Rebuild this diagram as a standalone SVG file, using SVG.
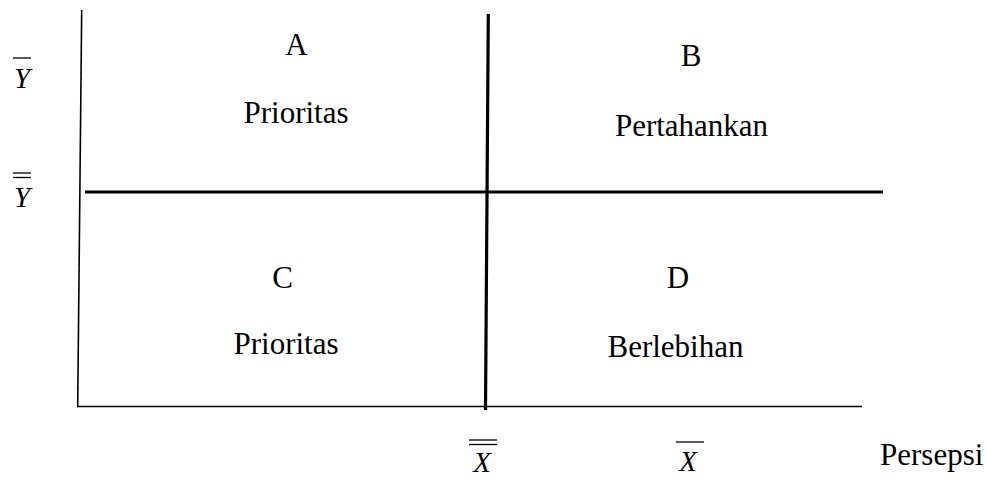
<svg xmlns="http://www.w3.org/2000/svg" width="987" height="479" viewBox="0 0 987 479">
<style>
.t{font-family:"Liberation Serif","Times New Roman",serif;font-size:31px;fill:#000;text-anchor:middle}
.m{font-family:"Liberation Serif","Times New Roman",serif;font-size:29px;font-style:italic;fill:#000;text-anchor:middle}
.thin{stroke:#000;stroke-width:1.6;fill:none}
.thick{stroke:#000;stroke-width:3.2;fill:none}
.bar{stroke:#000;stroke-width:1.3}
</style>
<rect width="987" height="479" fill="#fff"/>
<g id="connectors">
<line class="thin" x1="81.7" y1="10" x2="77.7" y2="406.5"/>
<line class="thin" x1="77" y1="406.5" x2="862" y2="406.5"/>
<line class="thick" x1="488.3" y1="14" x2="485.5" y2="410"/>
<line class="thick" x1="85" y1="192" x2="883" y2="192"/>
</g>
<g id="quadA">
<text class="t" x="296.5" y="55">A</text>
<text class="t" x="296" y="123">Prioritas</text>
</g>
<g id="quadB">
<text class="t" x="691" y="66">B</text>
<text class="t" x="691.5" y="136">Pertahankan</text>
</g>
<g id="quadC">
<text class="t" x="282.5" y="288">C</text>
<text class="t" x="286" y="354">Prioritas</text>
</g>
<g id="quadD">
<text class="t" x="678" y="288">D</text>
<text class="t" x="675.5" y="357">Berlebihan</text>
</g>
<g id="axisY">
<line class="bar" x1="13" y1="58" x2="31" y2="58"/>
<text class="m" x="22" y="88">Y</text>
<line class="bar" x1="13" y1="173" x2="31" y2="173"/>
<line class="bar" x1="13" y1="177.5" x2="31" y2="177.5"/>
<text class="m" x="22" y="207">Y</text>
</g>
<g id="axisX">
<line class="bar" x1="469" y1="440" x2="497" y2="440"/>
<line class="bar" x1="469" y1="444.5" x2="497" y2="444.5"/>
<text class="m" x="482" y="472">X</text>
<line class="bar" x1="676" y1="442" x2="704" y2="442"/>
<text class="m" x="688" y="471">X</text>
<text class="t" x="880" y="465" style="text-anchor:start">Persepsi</text>
</g>
</svg>
